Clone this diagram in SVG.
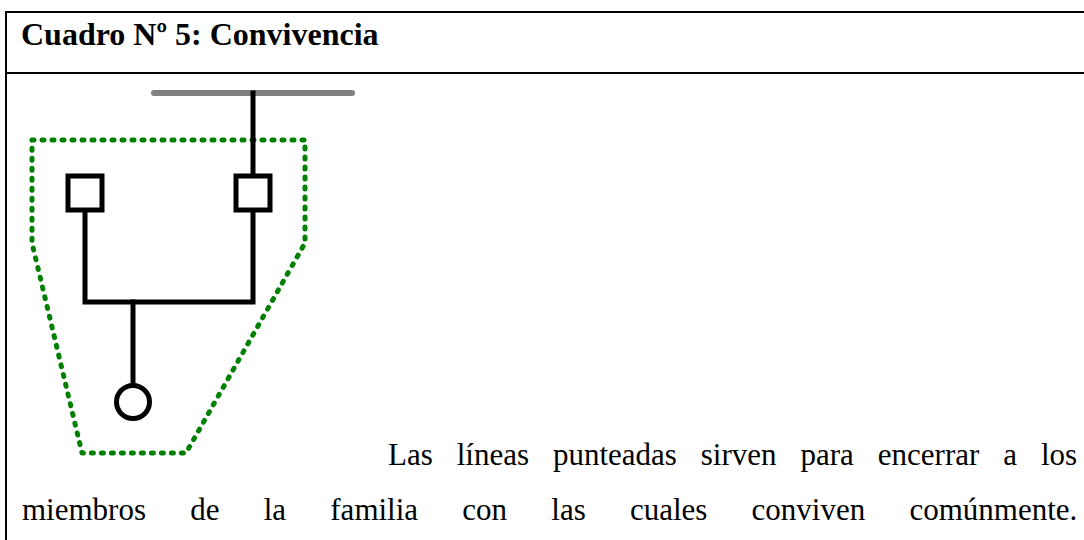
<svg xmlns="http://www.w3.org/2000/svg" width="1084" height="540" viewBox="0 0 1084 540">
<style>
.frame{stroke:#000;stroke-width:2;fill:none}
.title{font-family:"Liberation Serif","Times New Roman",serif;font-weight:bold;font-size:32px;fill:#000}
.body{font-family:"Liberation Serif","Times New Roman",serif;font-size:31px;fill:#000}
.ln{stroke:#000;stroke-width:5;fill:none;stroke-linecap:square}
.box{stroke:#000;stroke-width:5;fill:#fff}
.hh{stroke:#808080;stroke-width:6;stroke-linecap:round;fill:none}
.enc{stroke:#008000;stroke-width:5;fill:none;stroke-dasharray:2 8;stroke-linecap:round;stroke-linejoin:round}
</style>
<rect width="1084" height="540" fill="#fff"/>
<g id="frame">
<line class="frame" x1="6" y1="12" x2="1084" y2="12"/>
<line class="frame" x1="6" y1="73" x2="1084" y2="73"/>
<line class="frame" x1="6" y1="11" x2="6" y2="540"/>
</g>
<text class="title" x="21" y="45">Cuadro Nº 5: Convivencia</text>
<g id="household">
<polygon class="enc" points="32,140 305,140 305,243 186,453 82,453 32,243"/>
</g>
<g id="connectors">
<line class="hh" x1="154" y1="93" x2="352" y2="93"/>
<line class="ln" x1="253" y1="93" x2="253" y2="176"/>
<polyline class="ln" points="85,210 85,302 253,302 253,210"/>
<line class="ln" x1="133" y1="302" x2="133" y2="385"/>
</g>
<g id="father"><rect class="box" x="68" y="176" width="34" height="34"/></g>
<g id="mother"><rect class="box" x="236" y="176" width="34" height="34"/></g>
<g id="child"><circle class="box" cx="133" cy="402" r="16.5"/></g>
<g id="caption" class="body">
<text x="388" y="465">Las</text>
<text x="456.7" y="465">líneas</text>
<text x="552.9" y="465">punteadas</text>
<text x="700.8" y="465">sirven</text>
<text x="800.5" y="465">para</text>
<text x="877.8" y="465">encerrar</text>
<text x="1003.2" y="465">a</text>
<text x="1040.9" y="465">los</text>
<text x="22" y="520">miembros</text>
<text x="190.2" y="520">de</text>
<text x="263.7" y="520">la</text>
<text x="330.3" y="520">familia</text>
<text x="462.3" y="520">con</text>
<text x="551.3" y="520">las</text>
<text x="629.9" y="520">cuales</text>
<text x="751.6" y="520">conviven</text>
<text x="909.4" y="520">comúnmente.</text>
</g>
</svg>
